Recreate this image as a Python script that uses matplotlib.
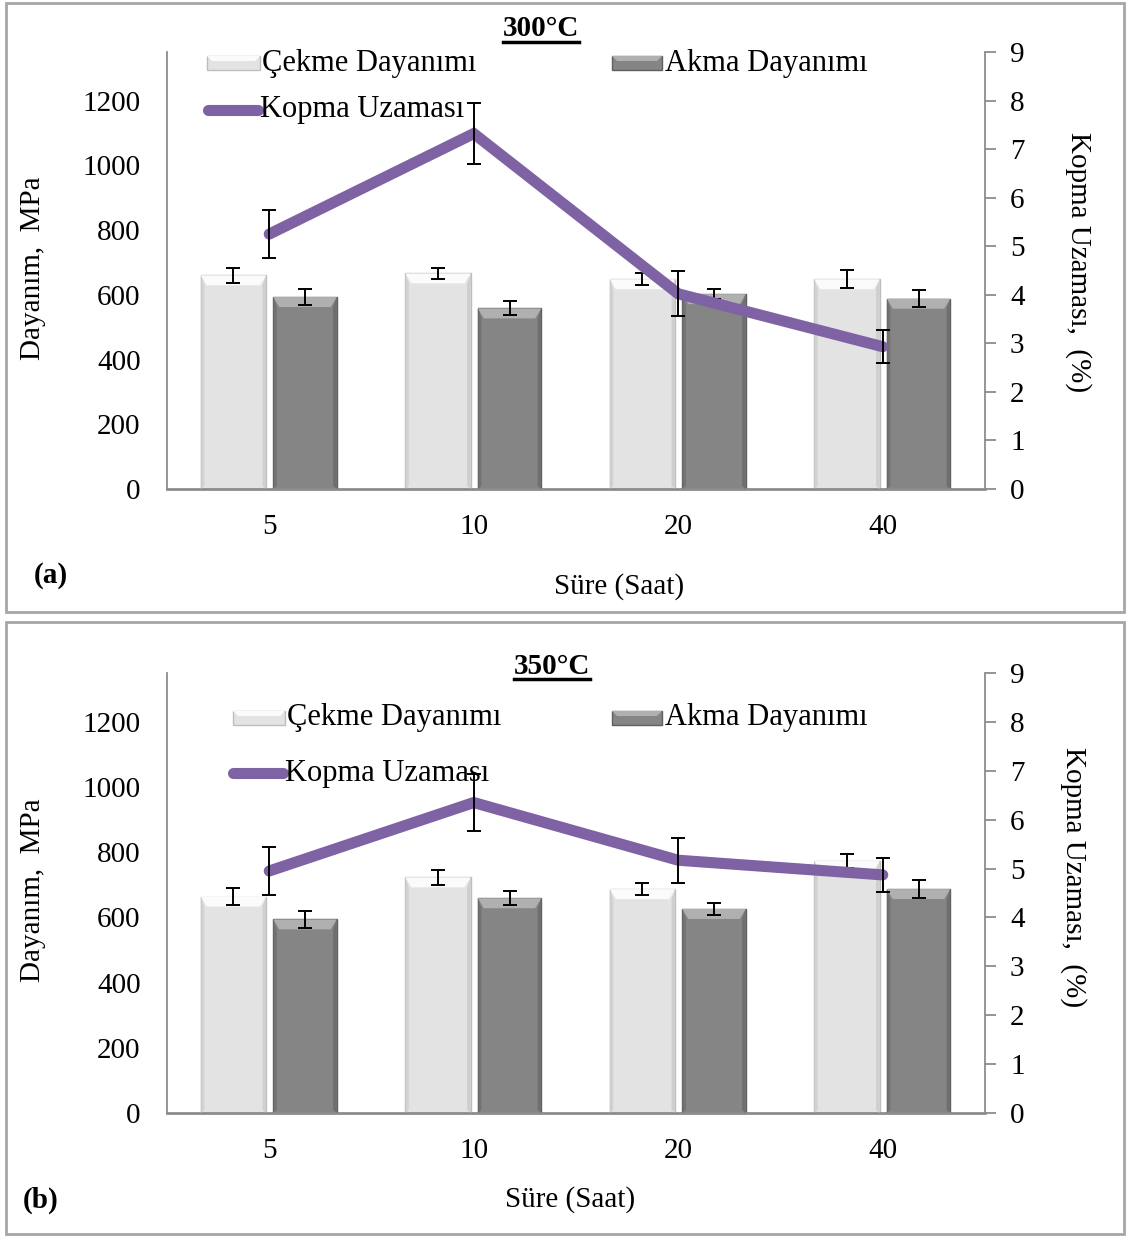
import matplotlib
matplotlib.use("Agg")
import matplotlib.pyplot as plt
from matplotlib.patches import Rectangle, Polygon
from matplotlib.lines import Line2D

plt.rcParams['font.family'] = ['Liberation Serif', 'DejaVu Serif']

# ---- data ----
sure = ['5', '10', '20', '40']

cekme_300 = [660, 666, 648, 648]
cekme_300_err = [24, 18, 18, 28]
akma_300 = [593, 558, 602, 588]
akma_300_err = [24, 22, 15, 27]
kopma_300 = [5.25, 7.32, 4.02, 2.93]
kopma_300_err = [0.50, 0.62, 0.46, 0.34]

cekme_350 = [664, 723, 687, 773]
cekme_350_err = [26, 22, 18, 22]
akma_350 = [594, 659, 626, 687]
akma_350_err = [25, 21, 19, 28]
kopma_350 = [4.95, 6.35, 5.17, 4.87]
kopma_350_err = [0.50, 0.59, 0.46, 0.34]

left_ticks = [0, 200, 400, 600, 800, 1000, 1200]
right_ticks = [0, 1, 2, 3, 4, 5, 6, 7, 8, 9]

W, H = 1126, 1236
fig = plt.figure(figsize=(W / 100, H / 100), dpi=100)

LIGHT = dict(body='#e3e3e3', top='#fbfbfb', side='#cfcfcf', edge='#bdbdbd')
DARK = dict(body='#858585', top='#b0b0b0', side='#6f6f6f', edge='#5f5f5f')
PURPLE = '#7f62a3'
AXC = '#8c8c8c'
FS = 21
LFS = 22


def fx(px):
    return px / W


def fy(py):
    return 1 - py / H


def bevel_bars(ax, xs, vals, width, scheme, axw_px, axh_px):
    bars = ax.bar(xs, vals, width=width, color=scheme['body'],
                  edgecolor=scheme['edge'], linewidth=1.0, zorder=2)
    x0l, x1l = ax.get_xlim()
    y0l, y1l = ax.get_ylim()
    dxp = (x1l - x0l) / axw_px
    dyp = (y1l - y0l) / axh_px
    bx, by = 6 * dxp, 10 * dyp
    for b in bars:
        x0 = b.get_x()
        x1 = x0 + b.get_width()
        h = b.get_height()
        # top face
        ax.add_patch(Polygon([(x0, h), (x1, h), (x1 - bx, h - by), (x0 + bx, h - by)],
                             closed=True, facecolor=scheme['top'], edgecolor='none', zorder=3))
        # side faces
        ax.add_patch(Polygon([(x0, h), (x0 + bx * 0.6, h - by), (x0 + bx * 0.6, by * 0.3), (x0, 0)],
                             closed=True, facecolor=scheme['side'], edgecolor='none', zorder=3, alpha=0.8))
        ax.add_patch(Polygon([(x1, h), (x1 - bx * 0.6, h - by), (x1 - bx * 0.6, by * 0.3), (x1, 0)],
                             closed=True, facecolor=scheme['side'], edgecolor='none', zorder=3))
    return bars


def legend_patch(px0, px1, pyc, scheme):
    h = 14
    fig.patches.append(Rectangle((fx(px0), fy(pyc + h / 2)), fx(px1 - px0), h / H,
                                 transform=fig.transFigure, facecolor=scheme['body'],
                                 edgecolor=scheme['edge'], linewidth=1.0))
    fig.patches.append(Polygon([(fx(px0), fy(pyc - h / 2)), (fx(px1), fy(pyc - h / 2)),
                                (fx(px1 - 5), fy(pyc - h / 2 + 5)), (fx(px0 + 5), fy(pyc - h / 2 + 5))],
                               closed=True, transform=fig.transFigure,
                               facecolor=scheme['top'], edgecolor='none'))


def panel(box_top, box_bot, ax_top, ax_bot, cekme, cekme_err, akma, akma_err,
          kopma, kopma_err, title, title_xy, leg, tag, tag_xy, xlabel_xy, ylab_y, rlab_xy):
    # panel frame
    fig.patches.append(Rectangle((fx(6), fy(box_bot)), fx(1118), (box_bot - box_top) / H,
                                 transform=fig.transFigure, facecolor='none',
                                 edgecolor='#a6a6a6', linewidth=2.0))
    left, right = 167, 985
    ax = fig.add_axes([fx(left), fy(ax_bot), fx(right - left), (ax_bot - ax_top) / H])
    ax.set_xlim(0, 4)
    ax.set_ylim(0, 1350)
    axw, axh = right - left, ax_bot - ax_top
    xs = [i + 0.5 for i in range(len(sure))]
    xl = [x - 0.175 for x in xs]
    xr = [x + 0.175 for x in xs]
    bevel_bars(ax, xl, cekme, 0.32, LIGHT, axw, axh)
    bevel_bars(ax, xr, akma, 0.31, DARK, axw, axh)
    ax.errorbar(xl, cekme, yerr=cekme_err, fmt='none', ecolor='black', elinewidth=1.4,
                capsize=5, capthick=1.4, zorder=5)
    ax.errorbar(xr, akma, yerr=akma_err, fmt='none', ecolor='black', elinewidth=1.4,
                capsize=5, capthick=1.4, zorder=5)

    for s in ['top', 'right']:
        ax.spines[s].set_visible(False)
    ax.spines['left'].set_color(AXC)
    ax.spines['left'].set_linewidth(1.3)
    ax.spines['bottom'].set_color(AXC)
    ax.spines['bottom'].set_linewidth(2.0)
    ax.set_yticks(left_ticks)
    ax.set_yticklabels([str(t) for t in left_ticks], fontsize=FS)
    ax.tick_params(axis='y', length=0, pad=19)
    ax.set_xticks(xs)
    ax.set_xticklabels(sure, fontsize=FS)
    ax.tick_params(axis='x', length=0, pad=18)
    ax.patch.set_alpha(0)

    ax2 = ax.twinx()
    ax2.set_ylim(0, 9)
    ax2.set_xlim(0, 4)
    for s in ['top', 'left', 'bottom']:
        ax2.spines[s].set_visible(False)
    ax2.spines['right'].set_color(AXC)
    ax2.spines['right'].set_linewidth(1.3)
    ax2.set_yticks(right_ticks)
    ax2.set_yticklabels([str(t) for t in right_ticks], fontsize=FS)
    ax2.tick_params(axis='y', length=8, width=1.3, color=AXC, direction='out', pad=10)
    ax2.plot(xs, kopma, color=PURPLE, linewidth=8, solid_joinstyle='miter',
             solid_capstyle='round', zorder=4)
    ax2.errorbar(xs, kopma, yerr=kopma_err, fmt='none', ecolor='black', elinewidth=1.4,
                 capsize=5, capthick=1.4, zorder=5)

    # axis titles
    fig.text(fx(33), fy(ylab_y), 'Dayanım,  MPa', rotation=90, ha='center', va='center',
             fontsize=FS)
    fig.text(fx(rlab_xy[0]), fy(rlab_xy[1]), 'Kopma Uzaması,  (%)', rotation=270,
             ha='center', va='center', fontsize=FS)
    fig.text(fx(xlabel_xy[0]), fy(xlabel_xy[1]), 'Süre (Saat)', ha='center', va='center',
             fontsize=FS)
    fig.text(fx(tag_xy[0]), fy(tag_xy[1]), tag, ha='center', va='center', fontsize=FS,
             fontweight='bold')

    # underlined title
    t = fig.text(fx(title_xy[0]), fy(title_xy[1]), title, ha='center', va='center',
                 fontsize=FS, fontweight='bold')
    fig.canvas.draw()
    bb = t.get_window_extent()
    fig.lines.append(Line2D([bb.x0 / W, bb.x1 / W], [(bb.y0 + 1) / H, (bb.y0 + 1) / H],
                            transform=fig.transFigure, color='black', linewidth=2.5))

    # legend entries
    (c_x0, c_x1, c_y), (a_x0, a_x1, a_y), (k_x0, k_x1, k_y) = leg
    legend_patch(c_x0, c_x1, c_y, LIGHT)
    fig.text(fx(c_x1 + 2), fy(c_y), 'Çekme Dayanımı', ha='left', va='center', fontsize=LFS)
    legend_patch(a_x0, a_x1, a_y, DARK)
    fig.text(fx(a_x1 + 3), fy(a_y), 'Akma Dayanımı', ha='left', va='center', fontsize=LFS)
    fig.lines.append(Line2D([fx(k_x0), fx(k_x1)], [fy(k_y), fy(k_y)], transform=fig.transFigure,
                            color=PURPLE, linewidth=8, solid_capstyle='round'))
    fig.text(fx(k_x1 + 2), fy(k_y), 'Kopma Uzaması', ha='left', va='center', fontsize=LFS)


panel(3, 612, 52, 489, cekme_300, cekme_300_err, akma_300, akma_300_err,
      kopma_300, kopma_300_err, '300°C', (541, 29),
      ((207, 260, 63), (612, 662, 63), (208, 258, 110)),
      '(a)', (51, 575), (619, 587), 268, (1078, 262))

panel(622, 1234, 673, 1113, cekme_350, cekme_350_err, akma_350, akma_350_err,
      kopma_350, kopma_350_err, '350°C', (552, 666),
      ((233, 285, 718), (612, 662, 718), (233, 283, 773)),
      '(b)', (41, 1200), (570, 1200), 890, (1073, 877))

fig.savefig('out.png', dpi=100)
